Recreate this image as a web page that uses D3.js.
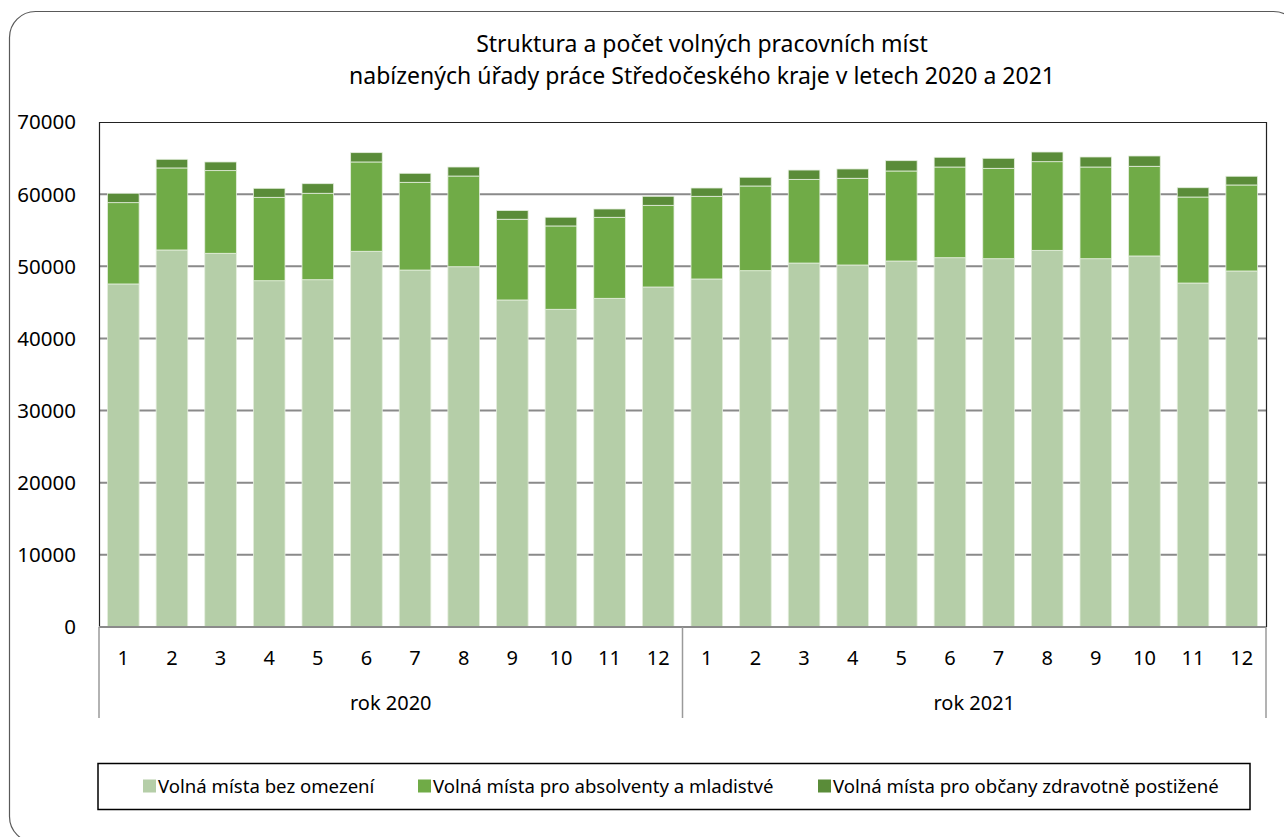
<!DOCTYPE html>
<html>
<head>
<meta charset="utf-8">
<script src="https://cdn.jsdelivr.net/npm/d3@7"></script>
<style>
    html, body { margin: 0; padding: 0; background: #fff; }
    svg { display: block; font-family: "Noto Sans", "Open Sans", sans-serif; }
</style>
</head>
<body>
<div id="chart"></div>
<script>
const months = ["1", "2", "3", "4", "5", "6", "7", "8", "9", "10", "11", "12"];
const years = ["rok 2020", "rok 2021"];
const seriesNames = [
    "Volná místa bez omezení",
    "Volná místa pro absolventy a mladistvé",
    "Volná místa pro občany zdravotně postižené"
];
// 2020 months 1-12, then 2021 months 1-12
const bezOmezeni = [47550, 52260, 51800, 48000, 48140, 52080, 49480, 49940, 45330, 44040, 45560, 47130,
                    48240, 49390, 50450, 50180, 50730, 51190, 51050, 52210, 51050, 51430, 47680, 49350];
const absolventi = [11270, 11370, 11460, 11560, 11980, 12380, 12160, 12570, 11190, 11550, 11230, 11320,
                    11460, 11740, 11600, 12020, 12480, 12570, 12530, 12290, 12710, 12430, 11920, 11920];
const postizeni = [1300, 1200, 1200, 1250, 1330, 1290, 1250, 1250, 1200, 1210, 1150, 1250,
                   1150, 1210, 1290, 1290, 1430, 1350, 1390, 1340, 1390, 1430, 1290, 1210];
const yTicks = [0, 10000, 20000, 30000, 40000, 50000, 60000, 70000];
const colors = ["#b5cea8", "#70ab47", "#5a8c39"];

const width = 1284, height = 837;
const plot = {left: 99, right: 1266, top: 122, bottom: 627};

const rows = bezOmezeni.map((v, i) => ({
    i: i,
    year: years[Math.floor(i / 12)],
    month: months[i % 12],
    s0: v, s1: absolventi[i], s2: postizeni[i]
}));

const stacked = d3.stack().keys(["s0", "s1", "s2"])(rows);

const x = d3.scaleBand()
    .domain(rows.map(d => d.i))
    .range([plot.left, plot.right])
    .paddingInner(0.35)
    .paddingOuter(0.175);

const y = d3.scaleLinear()
    .domain([0, 70000])
    .range([plot.bottom, plot.top]);

const svg = d3.select("#chart").append("svg")
    .attr("width", width)
    .attr("height", height);

// outer chart frame (runs past the right and bottom edges)
svg.append("rect")
    .attr("x", 9.5).attr("y", 11.5)
    .attr("width", 1290).attr("height", 831)
    .attr("rx", 26).attr("ry", 26)
    .attr("fill", "none")
    .attr("stroke", "#595959")
    .attr("stroke-width", 1.2);

// title
const title = svg.append("text")
    .attr("text-anchor", "middle")
    .attr("font-size", 23)
    .attr("fill", "#000");
title.append("tspan").attr("x", 702).attr("y", 52).text("Struktura a počet volných pracovních míst");
title.append("tspan").attr("x", 702).attr("y", 84).text("nabízených úřady práce Středočeského kraje v letech 2020 a 2021");

// gridlines
svg.append("g").selectAll("line")
    .data(yTicks.filter(t => t > 0 && t < 70000))
    .enter().append("line")
    .attr("x1", plot.left).attr("x2", plot.right)
    .attr("y1", d => y(d)).attr("y2", d => y(d))
    .attr("stroke", "#8a8a8a")
    .attr("stroke-width", 2);

// bars
svg.append("g").selectAll("g")
    .data(stacked)
    .enter().append("g")
    .attr("fill", (d, k) => colors[k])
    .selectAll("rect")
    .data(d => d)
    .enter().append("rect")
    .attr("x", d => x(d.data.i))
    .attr("width", x.bandwidth())
    .attr("y", d => y(d[1]))
    .attr("height", d => y(d[0]) - y(d[1]))
    .attr("stroke", "#e4eedd")
    .attr("stroke-width", 0.8);

// plot frame: top and right
svg.append("path")
    .attr("d", `M${plot.left},${plot.top + 0.5}H${plot.right + 0.5}V${plot.bottom}`)
    .attr("fill", "none")
    .attr("stroke", "#222")
    .attr("stroke-width", 1.2);

// left axis line
svg.append("line")
    .attr("x1", plot.left + 0.5).attr("x2", plot.left + 0.5)
    .attr("y1", plot.top).attr("y2", plot.bottom)
    .attr("stroke", "#222")
    .attr("stroke-width", 1.2);

// bottom axis line
svg.append("line")
    .attr("x1", plot.left).attr("x2", plot.right)
    .attr("y1", plot.bottom).attr("y2", plot.bottom)
    .attr("stroke", "#8a8a8a")
    .attr("stroke-width", 2);

// y labels
svg.append("g").selectAll("text")
    .data(yTicks)
    .enter().append("text")
    .attr("x", 76)
    .attr("y", d => y(d))
    .attr("dy", "0.36em")
    .attr("text-anchor", "end")
    .attr("font-size", 20.5)
    .text(d => d);

// category axis: month labels
svg.append("g").selectAll("text")
    .data(rows)
    .enter().append("text")
    .attr("x", d => x(d.i) + x.bandwidth() / 2)
    .attr("y", 658)
    .attr("dy", "0.36em")
    .attr("text-anchor", "middle")
    .attr("font-size", 20)
    .text(d => d.month);

// year group separators
const half = (x.step() - x.bandwidth()) / 2;
const bounds = [x(0) - half, x(12) - half, x(23) + x.bandwidth() + half];
svg.append("g").selectAll("line")
    .data(bounds)
    .enter().append("line")
    .attr("x1", d => d).attr("x2", d => d)
    .attr("y1", plot.bottom).attr("y2", 718)
    .attr("stroke", "#9a9a9a")
    .attr("stroke-width", 1.5);

svg.append("g").selectAll("text")
    .data(years)
    .enter().append("text")
    .attr("x", (d, k) => (bounds[k] + bounds[k + 1]) / 2)
    .attr("y", 703)
    .attr("dy", "0.36em")
    .attr("text-anchor", "middle")
    .attr("font-size", 20)
    .text(d => d);

// legend
svg.append("rect")
    .attr("x", 98).attr("y", 763.5)
    .attr("width", 1152).attr("height", 46)
    .attr("fill", "#fff")
    .attr("stroke", "#000")
    .attr("stroke-width", 1.5);

const legendX = [143, 418, 818];
const leg = svg.append("g").selectAll("g")
    .data(seriesNames)
    .enter().append("g")
    .attr("transform", (d, k) => `translate(${legendX[k]},786)`);
leg.append("rect")
    .attr("x", 0).attr("y", -6.5)
    .attr("width", 13).attr("height", 13)
    .attr("fill", (d, k) => colors[k]);
leg.append("text")
    .attr("x", 15)
    .attr("dy", "0.36em")
    .attr("font-size", 18.6)
    .text(d => d);
</script>
</body>
</html>
